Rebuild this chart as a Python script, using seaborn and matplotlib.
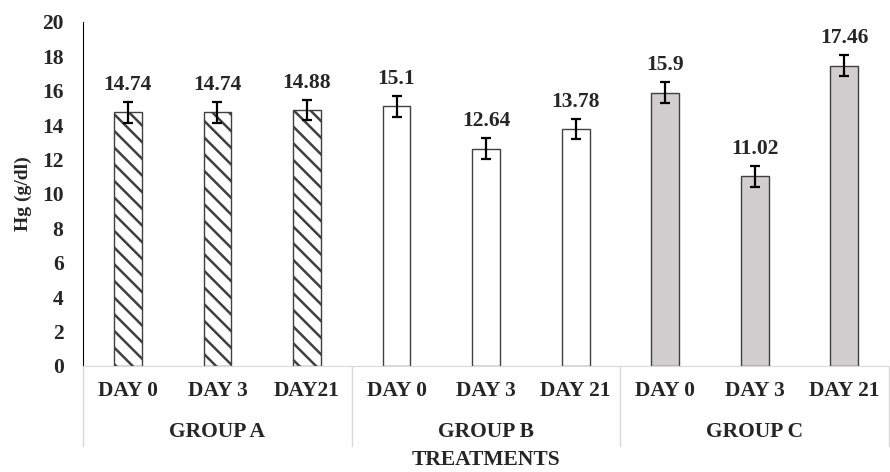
import pandas as pd
import matplotlib.pyplot as plt
import matplotlib.transforms as mtransforms
import seaborn as sns

# данные
groups = ['GROUP A', 'GROUP B', 'GROUP C']
days = ['DAY 0', 'DAY 3', 'DAY21', 'DAY 0', 'DAY 3', 'DAY 21', 'DAY 0', 'DAY 3', 'DAY 21']
hg_values = [14.74, 14.74, 14.88, 15.1, 12.64, 13.78, 15.9, 11.02, 17.46]
hg_errors = [0.6, 0.6, 0.6, 0.6, 0.6, 0.6, 0.6, 0.6, 0.6]
value_labels = ['14.74', '14.74', '14.88', '15.1', '12.64', '13.78', '15.9', '11.02', '17.46']

keys = [f'{g[-1]}{i}' for g in groups for i in range(3)]
df = pd.DataFrame({'key': keys, 'Hg': hg_values})

sns.set_style("white")
plt.rcParams['font.family'] = ['Liberation Serif', 'DejaVu Serif']
plt.rcParams['font.weight'] = 'bold'
plt.rcParams['hatch.linewidth'] = 1.8

fig = plt.figure(figsize=(8.9, 4.72), dpi=100)
ax = fig.add_axes([0.0933, 0.2246, 0.9057, 0.7288])

sns.barplot(data=df, x='key', y='Hg', ax=ax, width=0.31, color='white',
            edgecolor='#404040', linewidth=1.0, errorbar=None)

fills = ['white'] * 6 + ['#d0cece'] * 3
for i, bar in enumerate(ax.patches):
    bar.set_facecolor(fills[i])
    if i < 3:
        bar.set_hatch('\\\\')

xs = list(range(len(keys)))
ax.errorbar(xs, hg_values, yerr=hg_errors, fmt='none', ecolor='black',
            elinewidth=1.6, capsize=3.5, capthick=1.6)

for x, v, e, lab in zip(xs, hg_values, hg_errors, value_labels):
    ax.annotate(lab, (x, v + e), xytext=(0, 5), textcoords='offset points',
                ha='center', va='bottom', fontsize=15.5, fontweight='bold')

ax.set_ylim(0, 20)
ax.set_xlim(-0.5, 8.5)
ax.set_yticks(range(0, 21, 2))
ax.tick_params(axis='y', labelsize=15.5, length=0, pad=14)
ax.set_xticks(xs)
ax.set_xticklabels(days, fontsize=15.5, fontweight='bold')
ax.tick_params(axis='x', length=0, pad=11)

for s in ['top', 'right']:
    ax.spines[s].set_visible(False)
ax.spines['left'].set_color('black')
ax.spines['bottom'].set_color('#d9d9d9')

ax.set_ylabel('Hg (g/dl)', fontsize=14, fontweight='bold', labelpad=7)
ax.set_xlabel('')

trans = mtransforms.blended_transform_factory(ax.transData, ax.transAxes)
for gi, g in enumerate(groups):
    ax.text(gi * 3 + 1, -0.192, g, transform=trans, ha='center', va='center',
            fontsize=15.5, fontweight='bold')
for b in [-0.5, 2.5, 5.5, 8.5]:
    ax.plot([b, b], [0, -0.233], transform=trans, color='#d9d9d9',
            linewidth=1.0, clip_on=False)

ax.text(4, -0.273, 'TREATMENTS', transform=trans, ha='center', va='center',
        fontsize=15.5, fontweight='bold')

fig.savefig('out.png', dpi=100)
